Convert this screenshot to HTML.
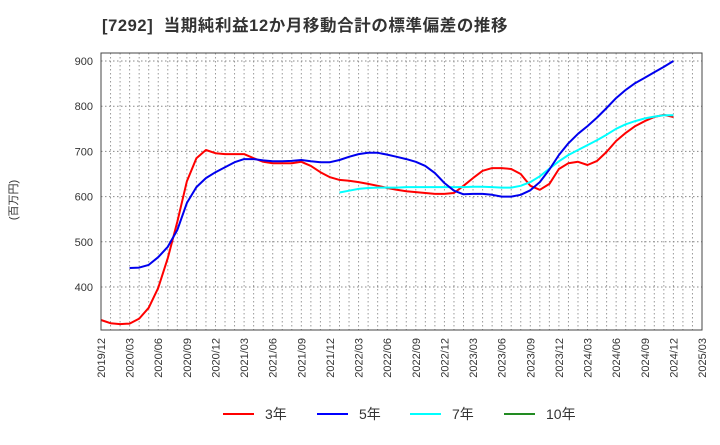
<!DOCTYPE html>
<html><head><meta charset="utf-8"><style>
body{margin:0;background:#fff;width:720px;height:440px;overflow:hidden;font-family:"Liberation Sans","Noto Sans CJK JP",sans-serif;}
</style></head><body>
<svg id="chart" width="720" height="440" xmlns="http://www.w3.org/2000/svg" font-family="'Liberation Sans','Noto Sans CJK JP',sans-serif">
<text x="102" y="31" font-size="16.5" font-weight="bold" fill="#333" letter-spacing="0.6" xml:space="preserve">[7292]  当期純利益12か月移動合計の標準偏差の推移</text>
<text transform="translate(17,200) rotate(-90)" text-anchor="middle" font-size="11" fill="#333">(百万円)</text>
<g id="grid"></g><g id="series"></g><g id="axes"></g><g id="legend"></g>
</svg>
<script>
const months = [];
for (let i = 0; i <= 63; i++) { const t = 2019*12 + 11 + i; months.push(Math.floor(t/12) + '/' + String(t%12+1).padStart(2,'0')); }
const yTicks = [400, 500, 600, 700, 800, 900];
const s3 = [327,320,318,319,330,354,398,464,544,634,685,703,696,694,694,694,685,677,674,674,674,677,668,654,643,637,635,632,628,624,619,615,612,610,608,606,606,608,624,641,657,663,663,661,650,624,615,628,661,674,677,670,679,699,723,741,756,767,776,781,776];
const s5 = [null,null,null,442,443,449,466,489,526,586,621,641,654,665,676,683,683,680,678,678,679,681,678,676,676,681,688,694,697,697,693,688,683,677,668,652,630,613,605,606,606,604,600,600,604,614,632,660,692,718,739,756,775,796,818,836,851,863,875,887,900];
const s7 = [null,null,null,null,null,null,null,null,null,null,null,null,null,null,null,null,null,null,null,null,null,null,null,null,null,609,613,617,619,620,620,620,621,621,621,621,621,621,621,622,622,621,620,620,624,632,645,662,678,692,703,714,725,737,750,760,767,773,777,780,780];
const s10 = [];
const L=101,R=702,T=53,B=330;
const xs = i => L + (R-L)*i/63;
const ys = v => 61 + (900-v)*0.452;
const NS='http://www.w3.org/2000/svg';
function mk(tag, attrs, parent){const e=document.createElementNS(NS,tag);for(const k in attrs)e.setAttribute(k,attrs[k]);parent.appendChild(e);return e;}
const grid=document.getElementById('grid'), axes=document.getElementById('axes'), ser=document.getElementById('series'), leg=document.getElementById('legend');
for(let i=1;i<63;i++){const g=mk('line',{x1:xs(i),x2:xs(i),y1:T,y2:B,stroke:'#999','stroke-dasharray':'1.5,2.5','stroke-width':1},grid);

}
yTicks.forEach(v=>{const g=mk('line',{x1:L,x2:R,y1:ys(v),y2:ys(v),stroke:'#888','stroke-dasharray':'1.5,2.5','stroke-width':1},grid);


const t=mk('text',{x:L-8,y:ys(v)+4,'text-anchor':'end','font-size':11,fill:'#333'},axes);t.textContent=v;

});
const fr=mk('rect',{x:L,y:T,width:R-L,height:B-T,fill:'none',stroke:'#444','stroke-width':1},axes);


for(let i=0;i<=63;i+=3){const x=xs(i);const t=mk('text',{transform:`translate(${x+4},338) rotate(-90)`,'text-anchor':'end','font-size':11,fill:'#333'},axes);t.textContent=months[i];

}
function line(data,color,name){let d='';data.forEach((v,i)=>{if(v==null)return;d+=(d?'L':'M')+xs(i).toFixed(1)+','+ys(v).toFixed(1);});
if(!d)return;const p=mk('path',{d:d,fill:'none',stroke:color,'stroke-width':2,'stroke-linejoin':'round'},ser);

}
line(s3,'#ff0000','series-3yr');line(s7,'#00ffff','series-7yr');line(s5,'#0000ee','series-5yr');line(s10,'#228b22','series-10yr');
const legItems=[['3年','#ff0000',223],['5年','#0000ff',317],['7年','#00ffff',410],['10年','#228b22',504]];
legItems.forEach(it=>{const g=mk('g',{},leg);


mk('line',{x1:it[2],x2:it[2]+31,y1:414,y2:414,stroke:it[1],'stroke-width':2},g);
const t=mk('text',{x:it[2]+42,y:419,'font-size':14,fill:'#333'},g);t.textContent=it[0];});
</script>
</body></html>
